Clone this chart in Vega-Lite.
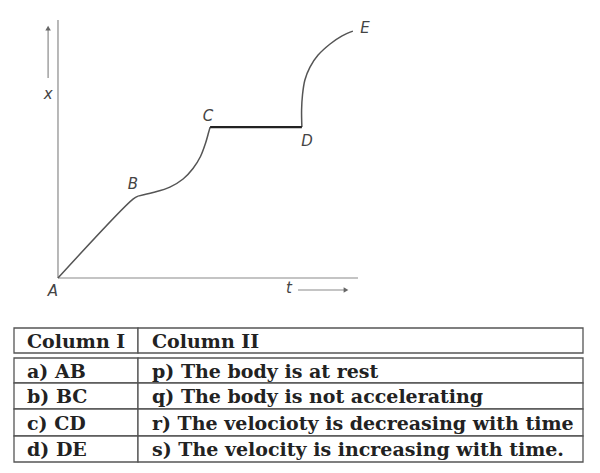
{
  "$schema": "https://vega.github.io/schema/vega-lite/v6.json",
  "background": "white",
  "padding": 0,
  "spacing": 0,
  "config": {"view": {"stroke": null}},
  "datasets": {
    "curve": [
      {"seg": "AB", "o": 0, "t": 0, "x": 0},
      {"seg": "AB", "o": 1, "t": 2.5, "x": 2.63},
      {"seg": "AB", "o": 2, "t": 2.67, "x": 2.73},
      {"seg": "BC", "o": 2, "t": 2.67, "x": 2.73},
      {"seg": "BC", "o": 3, "t": 3.17, "x": 2.85},
      {"seg": "BC", "o": 4, "t": 3.73, "x": 3.03},
      {"seg": "BC", "o": 5, "t": 4.17, "x": 3.3},
      {"seg": "BC", "o": 6, "t": 4.5, "x": 3.65},
      {"seg": "BC", "o": 7, "t": 4.75, "x": 4.05},
      {"seg": "BC", "o": 8, "t": 4.92, "x": 4.5},
      {"seg": "BC", "o": 9, "t": 5.02, "x": 4.85},
      {"seg": "BC", "o": 10, "t": 5.07, "x": 5.03},
      {"seg": "DE", "o": 11, "t": 8.13, "x": 5.03},
      {"seg": "DE", "o": 12, "t": 8.12, "x": 5.6},
      {"seg": "DE", "o": 13, "t": 8.15, "x": 6.1},
      {"seg": "DE", "o": 14, "t": 8.23, "x": 6.6},
      {"seg": "DE", "o": 15, "t": 8.4, "x": 7.03},
      {"seg": "DE", "o": 16, "t": 8.67, "x": 7.43},
      {"seg": "DE", "o": 17, "t": 9.07, "x": 7.8},
      {"seg": "DE", "o": 18, "t": 9.47, "x": 8.07},
      {"seg": "DE", "o": 19, "t": 9.83, "x": 8.23}
    ],
    "rules": [
      {"name": "t-axis", "t": 0, "x": 0, "t2": 10, "x2": 0},
      {"name": "x-axis", "t": 0, "x": 0, "t2": 0, "x2": 8.6},
      {"name": "x-arrow", "t": -0.33, "x": 6.67, "t2": -0.33, "x2": 8.3},
      {"name": "t-arrow", "t": 8.0, "x": -0.4, "t2": 9.55, "x2": -0.4}
    ],
    "heads": [
      {"dir": "up", "t": -0.33, "x": 8.33},
      {"dir": "right", "t": 9.6, "x": -0.4}
    ],
    "cd": [{"t": 5.07, "x": 5.03, "t2": 8.13, "x2": 5.03}],
    "labels": [
      {"label": "A", "t": -0.17, "x": -0.43},
      {"label": "B", "t": 2.5, "x": 3.13},
      {"label": "C", "t": 5.0, "x": 5.4},
      {"label": "D", "t": 8.3, "x": 4.57},
      {"label": "E", "t": 10.23, "x": 8.33},
      {"label": "x", "t": -0.33, "x": 6.15},
      {"label": "t", "t": 7.7, "x": -0.33}
    ],
    "table": [
      {"c1": "Column I", "c2": "Column II", "y0": 13, "y1": 38, "ym": 25.5},
      {"c1": "a) AB", "c2": "p) The body is at rest", "y0": 43, "y1": 68, "ym": 55.5},
      {"c1": "b) BC", "c2": "q) The body is not accelerating", "y0": 68, "y1": 94, "ym": 81},
      {"c1": "c) CD", "c2": "r) The velocioty is decreasing with time", "y0": 94, "y1": 121, "ym": 107.5},
      {"c1": "d) DE", "c2": "s) The velocity is increasing with time.", "y0": 121, "y1": 147, "ym": 134}
    ]
  },
  "vconcat": [
    {
      "width": 600,
      "height": 315,
      "encoding": {
        "x": {"field": "t", "type": "quantitative", "scale": {"domain": [-1.933, 18.067], "nice": false, "zero": false}, "axis": null},
        "y": {"field": "x", "type": "quantitative", "scale": {"domain": [-1.233, 9.267], "nice": false, "zero": false}, "axis": null}
      },
      "layer": [
        {
          "data": {"name": "rules"},
          "mark": {"type": "rule", "color": "#8a8a8a", "strokeWidth": 1.2},
          "encoding": {"x2": {"field": "t2"}, "y2": {"field": "x2"}}
        },
        {
          "data": {"name": "curve"},
          "mark": {"type": "line", "color": "#555555", "strokeWidth": 1.5, "interpolate": "catmull-rom"},
          "encoding": {
            "detail": {"field": "seg", "type": "nominal"},
            "order": {"field": "o", "type": "quantitative"}
          }
        },
        {
          "data": {"name": "cd"},
          "mark": {"type": "rule", "color": "#222222", "strokeWidth": 2.2},
          "encoding": {"x2": {"field": "t2"}, "y2": {"field": "x2"}}
        },
        {
          "data": {"name": "heads"},
          "mark": {"type": "point", "filled": true, "color": "#666666", "size": 30, "opacity": 1},
          "encoding": {
            "shape": {"field": "dir", "type": "nominal", "scale": {"domain": ["up", "right"], "range": ["triangle-up", "triangle-right"]}, "legend": null}
          }
        },
        {
          "data": {"name": "labels"},
          "mark": {"type": "text", "font": "DejaVu Sans", "fontStyle": "italic", "fontSize": 15, "color": "#444444", "align": "center", "baseline": "middle"},
          "encoding": {"text": {"field": "label"}}
        }
      ]
    },
    {
      "width": 600,
      "height": 158,
      "data": {"name": "table"},
      "encoding": {
        "y": {"field": "y0", "type": "quantitative", "scale": {"domain": [0, 158], "reverse": true, "nice": false, "zero": false}, "axis": null}
      },
      "layer": [
        {
          "mark": {"type": "rect", "fill": "white", "stroke": "#555555", "strokeWidth": 1.3},
          "encoding": {
            "x": {"datum": 14, "type": "quantitative", "scale": {"domain": [0, 600], "nice": false, "zero": false}, "axis": null},
            "x2": {"datum": 138},
            "y2": {"field": "y1"}
          }
        },
        {
          "mark": {"type": "rect", "fill": "white", "stroke": "#555555", "strokeWidth": 1.3},
          "encoding": {
            "x": {"datum": 138, "type": "quantitative"},
            "x2": {"datum": 583},
            "y2": {"field": "y1"}
          }
        },
        {
          "mark": {"type": "text", "font": "DejaVu Serif", "fontWeight": "bold", "fontSize": 19, "color": "#222222", "align": "left", "baseline": "middle", "dy": 1},
          "encoding": {
            "x": {"datum": 27, "type": "quantitative"},
            "y": {"field": "ym", "type": "quantitative"},
            "text": {"field": "c1"}
          }
        },
        {
          "mark": {"type": "text", "font": "DejaVu Serif", "fontWeight": "bold", "fontSize": 19, "color": "#222222", "align": "left", "baseline": "middle", "dy": 1},
          "encoding": {
            "x": {"datum": 152, "type": "quantitative"},
            "y": {"field": "ym", "type": "quantitative"},
            "text": {"field": "c2"}
          }
        }
      ]
    }
  ]
}
